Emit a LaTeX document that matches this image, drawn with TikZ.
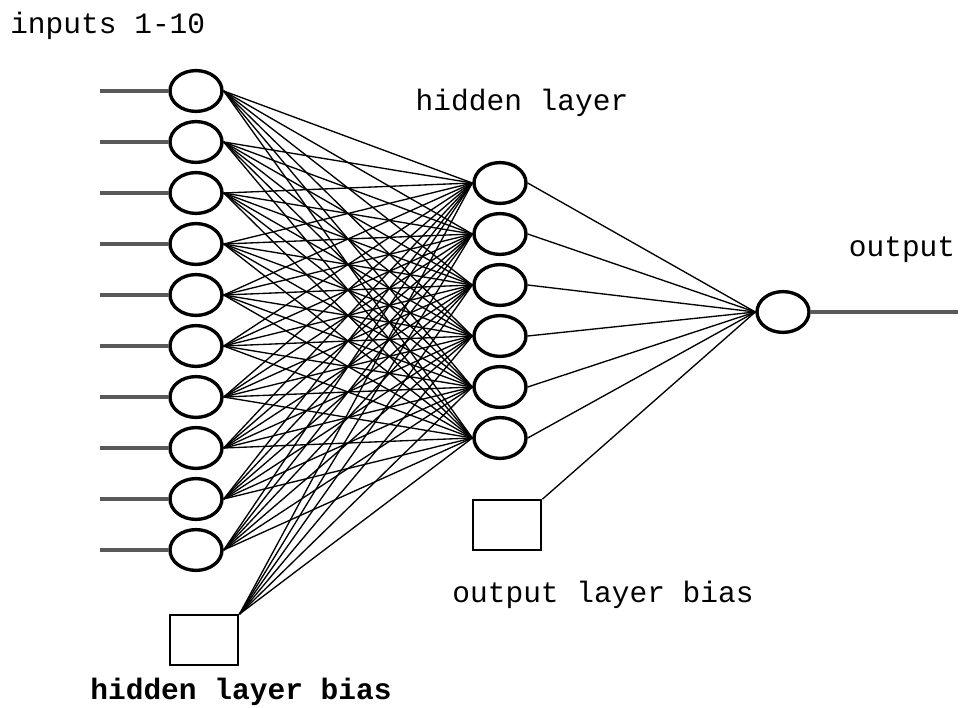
\documentclass[tikz,border=0pt]{standalone}
\usepackage{fontspec}
\setmonofont{Liberation Mono}
\usetikzlibrary{shapes.geometric}

\begin{document}
\begin{tikzpicture}[x=0.025cm,y=-0.025cm,
      nd/.style={ellipse,draw,line width=2.4pt,minimum width=1.3cm,minimum height=1.02cm,inner sep=0pt},
      bs/.style={rectangle,draw,line width=1.5pt,minimum width=1.72cm,minimum height=1.24cm,inner sep=0pt},
      wt/.style={line width=0.95pt},
      inl/.style={line width=2.4pt,gray!70!black},
      lbl/.style={font=\ttfamily\fontsize{21}{21}\selectfont,inner sep=0pt}]
    \useasboundingbox (0,0) rectangle (965,708);
    % input layer with its feeding lines
    \foreach \i in {1,...,10} {
      \node[nd] (in\i) at (196,{91+51*(\i-1)}) {};
      \coordinate (x\i) at (100,{91+51*(\i-1)});
      \draw[inl] (x\i) -- (in\i);
    }
    % hidden layer
    \foreach \j in {1,...,6} { \node[nd] (h\j) at (500,{183+51*(\j-1)}) {}; }
    \node[nd] (on) at (783,312) {};
    \coordinate (y) at (958,312);
    \draw[inl] (on) -- (y);
    % bias units
    \node[bs] (hb) at (204,640) {};
    \node[bs] (ob) at (507,525) {};
    % every input feeds every hidden unit
    \foreach \i in {1,...,10} {
      \foreach \j in {1,...,6} { \draw[wt] (in\i.east) -- (h\j.west); }
    }
    \foreach \j in {1,...,6} {
      \draw[wt] (hb.north east) -- (h\j.west);
      \draw[wt] (h\j.east) -- (on.west);
    }
    \draw[wt] (ob.north east) -- (on.west);
    % labels
    \node[lbl,anchor=west] (tin) at (10,26) {inputs 1-10};
    \node[lbl] (thid) at (522,103) {hidden layer};
    \node[lbl] (tout) at (902,250) {output};
    \node[lbl] (tob) at (603,595) {output layer bias};
    \node[lbl,font=\ttfamily\bfseries\fontsize{21}{21}\selectfont] (thb) at (241,692) {hidden layer bias};
  \end{tikzpicture}
\end{document}
